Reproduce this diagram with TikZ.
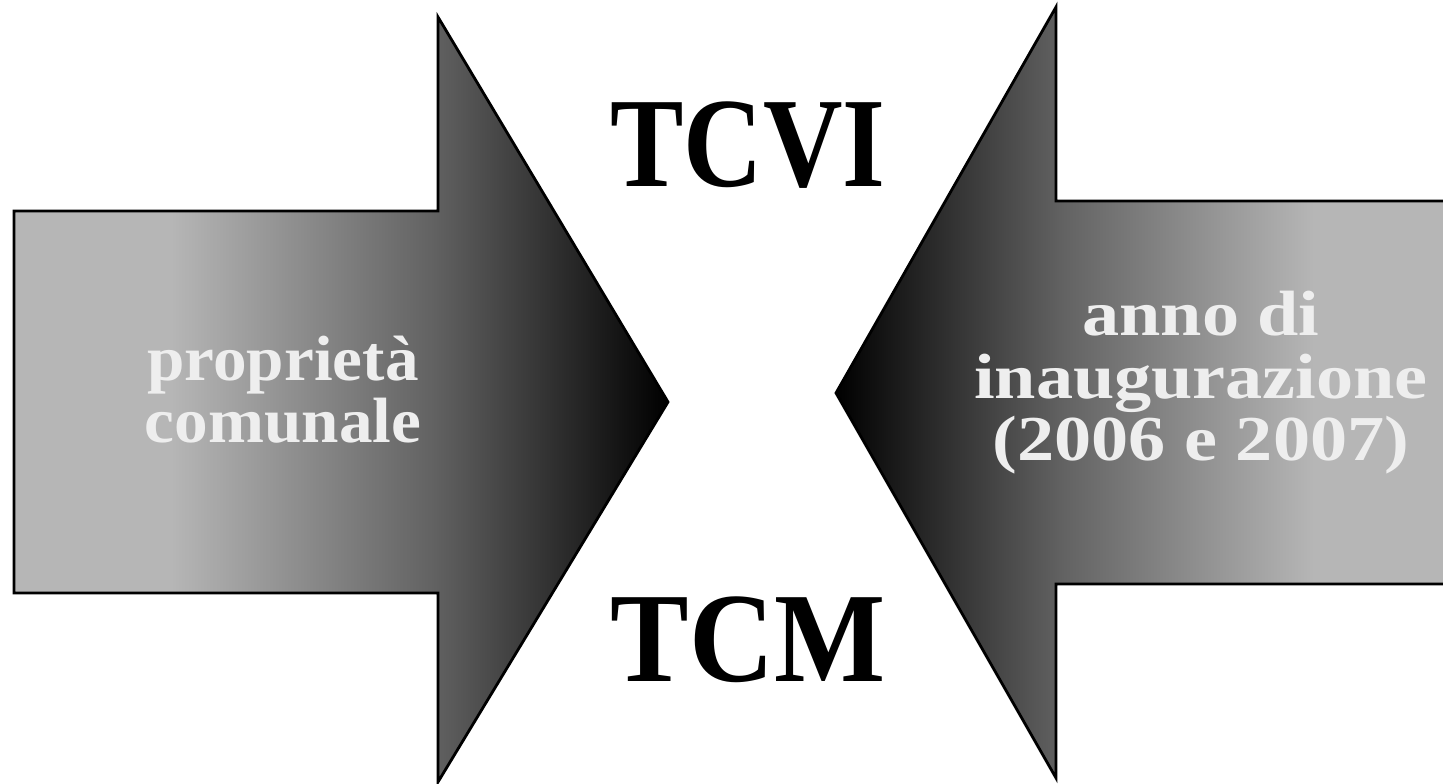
\documentclass[tikz,border=0pt]{standalone}
\usepackage{fontspec}
\setmainfont{Liberation Serif}
\definecolor{shLight}{HTML}{B6B6B6}
\definecolor{shMid}{HTML}{626262}
\definecolor{shDark}{HTML}{000000}
\definecolor{txtLight}{HTML}{EEEEEE}
% light body fading to a black tip, left to right
\pgfdeclarehorizontalshading{toRight}{100bp}{color(0bp)=(shLight); color(25bp)=(shLight); color(37bp)=(shLight); color(57bp)=(shMid); color(75bp)=(shDark); color(100bp)=(shDark)}
% mirrored version for the arrow that points left
\pgfdeclarehorizontalshading{toLeft}{100bp}{color(0bp)=(shDark); color(25bp)=(shDark); color(43bp)=(shMid); color(63bp)=(shLight); color(75bp)=(shLight); color(100bp)=(shLight)}
\newcommand{\stackedtext}[2]{\scalebox{#1}[1]{\begin{tabular}{@{}c@{}}#2\end{tabular}}}
\tikzset{
  bigarrow/.style={draw=black, line width=2.8pt, line join=miter},
  inlabel/.style={text=txtLight, font=\bfseries\fontsize{64}{60}\selectfont, inner sep=0pt},
  biglabel/.style={text=black, font=\bfseries\fontsize{128}{130}\selectfont}
}
\begin{document}
\begin{tikzpicture}[x=1pt,y=1pt]
  \useasboundingbox (0,0) rectangle (1443,784);
  \clip (0,0) rectangle (1443,784);
  \fill[white] (0,0) rectangle (1443,784);

  % arrow pointing right
  \path[bigarrow, shading=toRight]
    (14,573) -- (438,573) -- (438,767) -- (668,382) -- (438,2)
    -- (438,191) -- (14,191) -- cycle;

  % arrow pointing left (body runs off the right edge)
  \path[bigarrow, shading=toLeft]
    (836,391) -- (1056,777) -- (1056,583) -- (1465,583) -- (1465,200)
    -- (1056,200) -- (1056,6) -- cycle;

  \node[inlabel] (prop) at (283,386) {\stackedtext{1.05}{propriet\`a\\comunale}};
  \node[inlabel] (anno) at (1201,399) {\stackedtext{1.16}{anno di\\inaugurazione\\(2006 e 2007)}};

  \node[biglabel] (tcvi) at (748,639) {\scalebox{0.86}[1]{TCVI}};
  \node[biglabel] (tcm) at (748,144) {\scalebox{0.92}[1]{TCM}};
\end{tikzpicture}
\end{document}
